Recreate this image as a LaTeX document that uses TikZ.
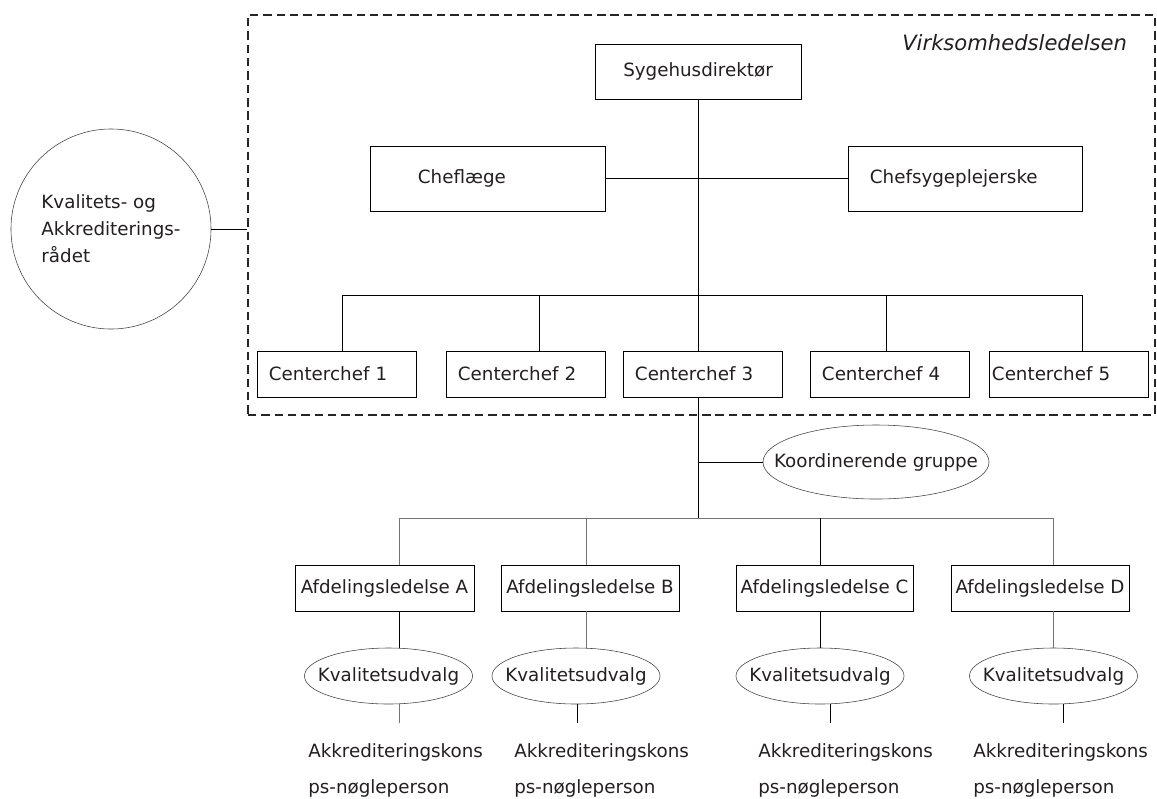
\documentclass[tikz,border=0pt]{standalone}
\usepackage{fontspec}
\setmainfont{DejaVu Sans}
\usepackage{tikz}
\usetikzlibrary{shapes.geometric, positioning, calc}
\definecolor{inkdark}{RGB}{35, 31, 32}
\newcommand{\unittext}[1]{\makebox[0pt]{#1}}

\begin{document}
\begin{tikzpicture}[
    x=0.025cm, y=-0.025cm,
    every node/.style={font=\fontsize{13}{16}\selectfont, text=inkdark},
    box/.style={draw, minimum height=1.15cm, inner xsep=2pt, align=center},
    lbox/.style={draw, minimum height=1.15cm, text width=3.375cm,
                 inner xsep=0.3cm, align=left},
    unit/.style={draw=black!75, ellipse, minimum width=4.2cm,
                 minimum height=1.4cm, inner sep=0pt},
    org/.style={draw=black!85, dash pattern=on 6pt off 3.5pt, line width=1.1pt},
    conn/.style={line width=0.6pt},
    lconn/.style={line width=0.6pt, black!55},
    note/.style={align=left, inner sep=0pt, anchor=north west,
                 font=\fontsize{13}{25.6}\selectfont}
  ]
    \useasboundingbox (0,0) rectangle (1157,798);

    % top management frame
    \node[org, minimum width=22.675cm, minimum height=10cm] (vl) at (701.5,215) {};
    \node[anchor=east, font=\fontsize{15}{18}\selectfont\itshape] (vltitle)
      at (1132,43) {Virksomhedsledelsen};

    \node[box, minimum width=5.15cm, minimum height=1.375cm] (sd) at (698,71.5)
      {Sygehusdirektør};
    \node[draw, minimum height=1.625cm, text width=3.475cm, inner xsep=1.2cm,
          align=left] (cl) at (487.5,178.5) {Cheflæge};
    \node[draw, minimum height=1.625cm, text width=4.75cm, inner xsep=0.55cm,
          align=left] (cs) at (965,178.5) {Chefsygeplejerske};

    \node[lbox] (cc1) at (336.5,374) {Centerchef 1};
    \node[lbox] (cc2) at (525.5,374) {Centerchef 2};
    \node[lbox] (cc3) at (702.5,374) {Centerchef 3};
    \node[lbox] (cc4) at (889.5,374) {Centerchef 4};
    \node[lbox, text width=3.825cm, inner xsep=0.075cm] (cc5) at (1068.5,374)
      {Centerchef 5};

    % council
    \node[circle, draw=black!75, minimum size=5cm, inner sep=0pt, align=left,
          font=\fontsize{13}{19.2}\selectfont] (kar) at (111,229)
      {Kvalitets- og\\Akkrediterings-\\rådet};

    % departments
    \node[unit, minimum width=5.65cm, minimum height=1.85cm] (kg) at (876,462)
      {\unittext{Koordinerende gruppe}};

    \node[box, minimum width=4.475cm] (afdA) at (384.5,588) {Afdelingsledelse A};
    \node[box, minimum width=4.45cm] (afdB) at (590,588) {Afdelingsledelse B};
    \node[box, minimum width=4.425cm] (afdC) at (824.5,588) {Afdelingsledelse C};
    \node[box, minimum width=4.45cm] (afdD) at (1040,588) {Afdelingsledelse D};

    \node[unit] (kvA) at (388.5,676) {\unittext{Kvalitetsudvalg}};
    \node[unit] (kvB) at (576,676) {\unittext{Kvalitetsudvalg}};
    \node[unit] (kvC) at (820,676) {\unittext{Kvalitetsudvalg}};
    \node[unit] (kvD) at (1053.5,676) {\unittext{Kvalitetsudvalg}};

    \node[note] (akA) at (308,743) {Akkrediteringskons\\ps-nøgleperson};
    \node[note] (akB) at (514,743) {Akkrediteringskons\\ps-nøgleperson};
    \node[note] (akC) at (758,743) {Akkrediteringskons\\ps-nøgleperson};
    \node[note] (akD) at (973,743) {Akkrediteringskons\\ps-nøgleperson};

    % bus points
    \coordinate (busL) at (342,295);
    \coordinate (busR) at (1082,295);
    \coordinate (d2) at (539,295);
    \coordinate (d4) at (886,295);
    \coordinate (lbusL) at (399,518);
    \coordinate (lbusR) at (1053,518);
    \coordinate (dB) at (586,518);
    \coordinate (dC) at (820,518);
    \coordinate (sA) at (399,723);
    \coordinate (sB) at (577,723);
    \coordinate (sC) at (830,723);
    \coordinate (sD) at (1063,723);

    \draw[conn] (sd.south) -- (sd.south |- cc3.north);
    \draw[conn] (cl.east) -- (cs.west);
    \draw[conn] (busL) -- (busR);
    \draw[conn] (busL) -- (busL |- cc1.north);
    \draw[conn] (d2) -- (d2 |- cc2.north);
    \draw[conn] (d4) -- (d4 |- cc4.north);
    \draw[conn] (busR) -- (busR |- cc5.north);
    \draw[conn] (kar.east) -- (kar.east -| vl.west);

    \draw[conn] (sd.south |- cc3.south) -- (sd.south |- lbusL);
    \draw[conn] (kg.west) -- (kg.west -| sd.south);
    \draw[lconn] (lbusL) -- (lbusR);
    \draw[lconn] (lbusL) -- (lbusL |- afdA.north);
    \draw[lconn] (dB) -- (dB |- afdB.north);
    \draw[conn] (dC) -- (dC |- afdC.north);
    \draw[lconn] (lbusR) -- (lbusR |- afdD.north);

    \draw[conn] (lbusL |- afdA.south) -- (lbusL |- kvA.north);
    \draw[lconn] (dB |- afdB.south) -- (dB |- kvB.north);
    \draw[conn] (dC |- afdC.south) -- (dC |- kvC.north);
    \draw[lconn] (lbusR |- afdD.south) -- (lbusR |- kvD.north);

    \draw[lconn] (sA |- kvA.south) -- (sA);
    \draw[conn] (sB |- kvB.south) -- (sB);
    \draw[conn] (sC |- kvC.south) -- (sC);
    \draw[conn] (sD |- kvD.south) -- (sD);
  \end{tikzpicture}
\end{document}
